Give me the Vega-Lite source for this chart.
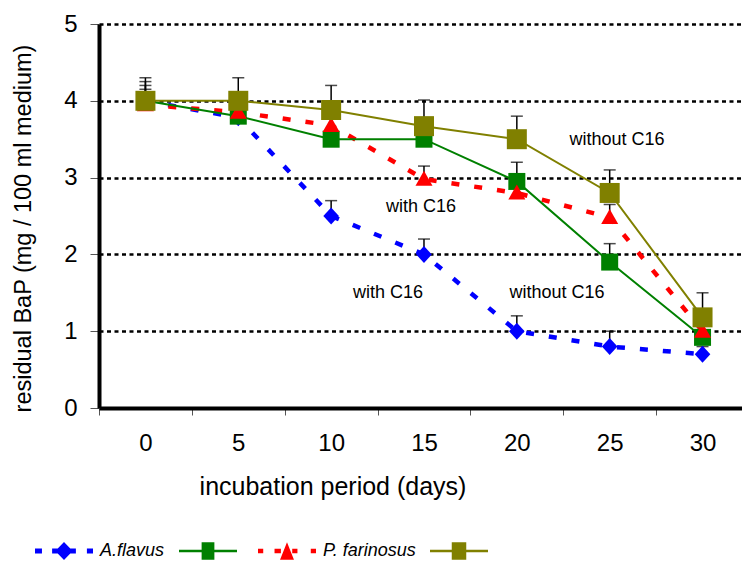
{
  "$schema": "https://vega.github.io/schema/vega-lite/v6.json",
  "width": 643,
  "height": 384,
  "autosize": {"type": "none"},
  "padding": {"left": 99, "top": 24, "right": 0, "bottom": 153},
  "background": "white",
  "config": {
    "view": {"stroke": null},
    "font": "Liberation Sans",
    "axis": {"labelColor": "black", "titleColor": "black", "labelFont": "Liberation Sans", "titleFont": "Liberation Sans", "titleFontWeight": "normal"}
  },
  "datasets": {
    "series": [
      {"series": "A.flavus", "day": 0, "value": 4.0, "top": 4.15},
      {"series": "A.flavus", "day": 5, "value": 3.78, "top": 3.9},
      {"series": "A.flavus", "day": 10, "value": 2.5, "top": 2.7},
      {"series": "A.flavus", "day": 15, "value": 2.0, "top": 2.2},
      {"series": "A.flavus", "day": 20, "value": 1.0, "top": 1.2},
      {"series": "A.flavus", "day": 25, "value": 0.8, "top": 1.0},
      {"series": "A.flavus", "day": 30, "value": 0.7, "top": 0.8},
      {"series": "A.flavus without C16", "day": 0, "value": 4.0, "top": 4.25},
      {"series": "A.flavus without C16", "day": 5, "value": 3.8, "top": 3.9},
      {"series": "A.flavus without C16", "day": 10, "value": 3.5, "top": 3.6},
      {"series": "A.flavus without C16", "day": 15, "value": 3.5, "top": 3.65},
      {"series": "A.flavus without C16", "day": 20, "value": 2.95, "top": 3.2},
      {"series": "A.flavus without C16", "day": 25, "value": 1.9, "top": 2.14},
      {"series": "A.flavus without C16", "day": 30, "value": 0.92, "top": 1.0},
      {"series": "P. farinosus", "day": 0, "value": 3.95, "top": 4.2},
      {"series": "P. farinosus", "day": 5, "value": 3.85, "top": 3.95},
      {"series": "P. farinosus", "day": 10, "value": 3.68, "top": 3.8},
      {"series": "P. farinosus", "day": 15, "value": 2.98, "top": 3.15},
      {"series": "P. farinosus", "day": 20, "value": 2.8, "top": 2.9},
      {"series": "P. farinosus", "day": 25, "value": 2.48, "top": 2.65},
      {"series": "P. farinosus", "day": 30, "value": 1.0, "top": 1.1},
      {"series": "P. farinosus without C16", "day": 0, "value": 4.0, "top": 4.3},
      {"series": "P. farinosus without C16", "day": 5, "value": 4.0, "top": 4.3},
      {"series": "P. farinosus without C16", "day": 10, "value": 3.88, "top": 4.2},
      {"series": "P. farinosus without C16", "day": 15, "value": 3.67, "top": 4.01},
      {"series": "P. farinosus without C16", "day": 20, "value": 3.5, "top": 3.8},
      {"series": "P. farinosus without C16", "day": 25, "value": 2.8, "top": 3.1},
      {"series": "P. farinosus without C16", "day": 30, "value": 1.18, "top": 1.5}
    ],
    "notes": [
      {"text": "without C16", "day": 25.39, "value": 3.49},
      {"text": "with C16", "day": 14.84, "value": 2.62},
      {"text": "with C16", "day": 13.06, "value": 1.5},
      {"text": "without C16", "day": 22.16, "value": 1.5}
    ]
  },
  "layer": [
    {
      "data": {"name": "series"},
      "mark": {"type": "point", "filled": true, "opacity": 0, "size": 1},
      "encoding": {
        "x": {
          "field": "day", "type": "quantitative",
          "scale": {"domain": [-2.5, 32.125], "nice": false, "zero": false},
          "axis": {
            "values": [0, 5, 10, 15, 20, 25, 30],
            "tickOffset": -46.43, "labelOffset": 46.43,
            "tickSize": 7, "tickColor": "#555555", "tickWidth": 1,
            "domainColor": "black", "domainWidth": 4,
            "grid": false, "labelFontSize": 24, "labelPadding": 16, "labelOverlap": false, "labelFlush": false,
            "title": "incubation period (days)", "titleFontSize": 25,
            "titleX": 233.5, "titleY": 86, "titleBaseline": "alphabetic", "titleAlign": "center"
          }
        },
        "y": {
          "field": "value", "type": "quantitative",
          "scale": {"domain": [0, 5], "nice": false, "zero": true},
          "axis": {
            "values": [0, 1, 2, 3, 4, 5], "format": "d",
            "grid": true, "gridDash": [4, 3.5], "gridColor": "black", "gridWidth": 2.5,
            "domainColor": "black", "domainWidth": 4,
            "tickSize": 9, "tickColor": "#555555", "tickWidth": 1,
            "labelPadding": 13, "labelFontSize": 24,
            "title": "residual BaP (mg / 100 ml medium)", "titleFontSize": 23.5,
            "titleX": -69, "titleY": 204, "titleBaseline": "alphabetic", "titleAngle": -90, "titleAlign": "center"
          }
        },
        "color": {
          "field": "series", "type": "nominal",
          "scale": {"domain": ["A.flavus", "A.flavus without C16", "P. farinosus", "P. farinosus without C16"], "range": ["#0000ff", "#008000", "#ff0000", "#808000"]},
          "legend": {
            "orient": "none", "legendX": -64, "legendY": 498, "direction": "horizontal", "title": null,
            "symbolSize": 3364, "symbolStrokeWidth": 0, "symbolOpacity": 1,
            "symbolType": {"expr": "datum.value === 'A.flavus' ? 'M-1,-0.086H-0.76V0.086H-1Z M-0.41,-0.086H-0.2V0.086H-0.41Z M0.2,-0.086H0.41V0.086H0.2Z M0.79,-0.086H1V0.086H0.79Z M0,-0.31L0.3,0L0,0.31L-0.3,0Z' : datum.value === 'A.flavus without C16' ? 'M-1,-0.045H1V0.045H-1Z M-0.22,-0.3H0.22V0.3H-0.22Z' : datum.value === 'P. farinosus' ? 'M-1,-0.08H-0.82V0.08H-1Z M-0.43,-0.08H-0.21V0.08H-0.43Z M0.18,-0.08H0.36V0.08H0.18Z M0.82,-0.08H1V0.08H0.82Z M0,-0.3L0.24,0.3L-0.24,0.3Z' : 'M-1,-0.045H1V0.045H-1Z M-0.25,-0.3H0.25V0.3H-0.25Z'"},
            "labelFont": "Liberation Sans", "labelFontSize": 18, "labelFontStyle": "italic", "labelColor": "black",
            "labelOffset": 7, "columnPadding": 14,
            "labelExpr": "datum.value === 'A.flavus' || datum.value === 'P. farinosus' ? datum.value : ''"
          }
        }
      }
    },
    {
      "data": {"name": "series"},
      "mark": {"type": "rule", "color": "black", "strokeWidth": 1.5},
      "encoding": {
        "x": {"field": "day", "type": "quantitative"},
        "y": {"field": "value", "type": "quantitative"},
        "y2": {"field": "top"}
      }
    },
    {
      "data": {"name": "series"},
      "mark": {"type": "tick", "orient": "horizontal", "size": 12, "thickness": 1.5, "color": "black"},
      "encoding": {
        "x": {"field": "day", "type": "quantitative"},
        "y": {"field": "top", "type": "quantitative"}
      }
    },
    {
      "data": {"name": "series"},
      "transform": [{"filter": "datum.series === 'A.flavus' || datum.series === 'P. farinosus'"}],
      "mark": {"type": "line", "strokeWidth": 4.5, "strokeDash": [8, 15]},
      "encoding": {
        "x": {"field": "day", "type": "quantitative"},
        "y": {"field": "value", "type": "quantitative"},
        "color": {"field": "series", "type": "nominal"}
      }
    },
    {
      "data": {"name": "series"},
      "transform": [{"filter": "datum.series === 'A.flavus without C16' || datum.series === 'P. farinosus without C16'"}],
      "mark": {"type": "line", "strokeWidth": 2},
      "encoding": {
        "x": {"field": "day", "type": "quantitative"},
        "y": {"field": "value", "type": "quantitative"},
        "color": {"field": "series", "type": "nominal"}
      }
    },
    {
      "data": {"name": "series"},
      "transform": [{"filter": "datum.series === 'A.flavus'"}],
      "mark": {"type": "point", "filled": true, "opacity": 1, "size": 400, "shape": "M0,-0.85L0.78,0L0,0.85L-0.78,0Z"},
      "encoding": {
        "x": {"field": "day", "type": "quantitative"},
        "y": {"field": "value", "type": "quantitative"},
        "color": {"field": "series", "type": "nominal"}
      }
    },
    {
      "data": {"name": "series"},
      "transform": [{"filter": "datum.series === 'A.flavus without C16'"}],
      "mark": {"type": "point", "filled": true, "opacity": 1, "size": 400, "shape": "M-0.85,-0.85H0.85V0.85H-0.85Z"},
      "encoding": {
        "x": {"field": "day", "type": "quantitative"},
        "y": {"field": "value", "type": "quantitative"},
        "color": {"field": "series", "type": "nominal"}
      }
    },
    {
      "data": {"name": "series"},
      "transform": [{"filter": "datum.series === 'P. farinosus'"}],
      "mark": {"type": "point", "filled": true, "opacity": 1, "size": 400, "shape": "M0,-0.85L0.85,0.65L-0.85,0.65Z"},
      "encoding": {
        "x": {"field": "day", "type": "quantitative"},
        "y": {"field": "value", "type": "quantitative"},
        "color": {"field": "series", "type": "nominal"}
      }
    },
    {
      "data": {"name": "series"},
      "transform": [{"filter": "datum.series === 'P. farinosus without C16'"}],
      "mark": {"type": "point", "filled": true, "opacity": 1, "size": 400, "shape": "M-1,-1H1V1H-1Z"},
      "encoding": {
        "x": {"field": "day", "type": "quantitative"},
        "y": {"field": "value", "type": "quantitative"},
        "color": {"field": "series", "type": "nominal"}
      }
    },
    {
      "mark": {"type": "rule", "color": "black", "strokeWidth": 4},
      "encoding": {"y": {"datum": 5, "type": "quantitative"}}
    },
    {
      "data": {"name": "notes"},
      "mark": {"type": "text", "font": "Liberation Sans", "fontSize": 18, "color": "black", "align": "center", "baseline": "middle"},
      "encoding": {
        "x": {"field": "day", "type": "quantitative"},
        "y": {"field": "value", "type": "quantitative"},
        "text": {"field": "text"}
      }
    }
  ]
}
